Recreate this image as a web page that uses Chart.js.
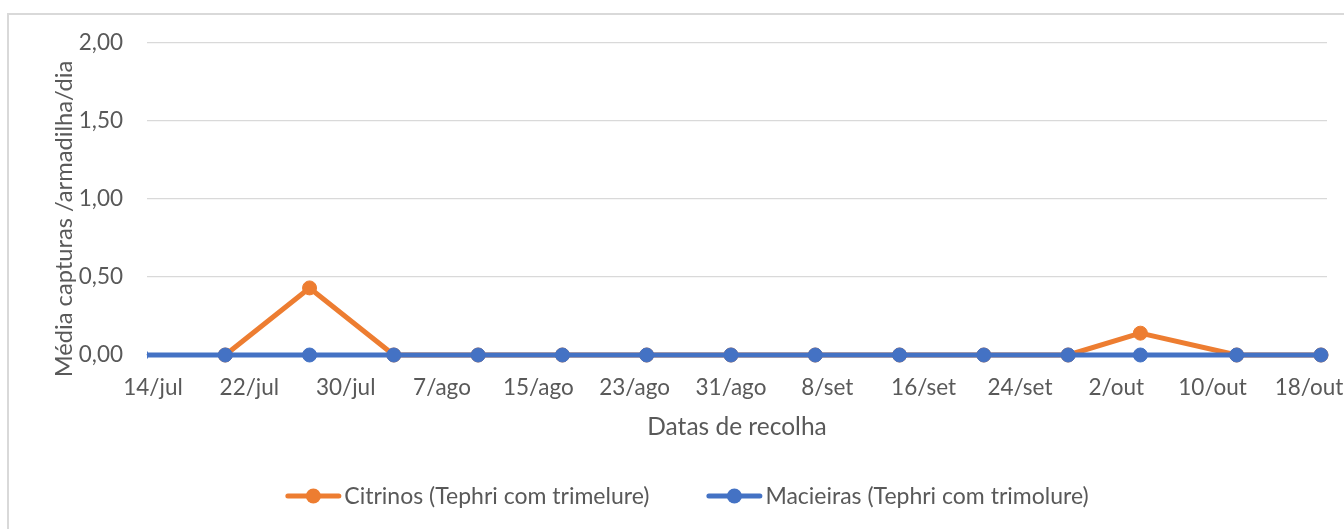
<!DOCTYPE html>
<html>
<head>
<meta charset="utf-8">
<script src="https://cdn.jsdelivr.net/npm/chart.js@4.4.1/dist/chart.umd.min.js"></script>
<style>
  html, body { margin: 0; padding: 0; background: #ffffff; }
  #wrap { position: relative; width: 1344px; height: 529px; overflow: hidden; }
  #frame { position: absolute; left: 7px; top: 13px; width: 1400px; height: 600px;
           border-left: 2px solid #d9d9d9; border-top: 2px solid #d9d9d9; }
  canvas { position: absolute; left: 0; top: 0; }
</style>
</head>
<body>
<div id="wrap">
  <div id="frame"></div>
  <canvas id="c" width="1344" height="529"></canvas>
</div>
<script>
// ---- data ----
const collectionDates = ['13/jul','20/jul','27/jul','3/ago','10/ago','17/ago','24/ago','31/ago','7/set','14/set','21/set','28/set','4/out','12/out','19/out'];
const citrinos   = [null, 0, 0.43, 0, 0, 0, 0, 0, 0, 0, 0, 0, 0.14, 0, 0];
const macieiras  = [0, 0, 0, 0, 0, 0, 0, 0, 0, 0, 0, 0, 0, 0, 0];
const xTickLabels = ['14/jul','22/jul','30/jul','7/ago','15/ago','23/ago','31/ago','8/set','16/set','24/set','2/out','10/out','18/out'];
const yTickValues = [0, 0.5, 1, 1.5, 2];
const seriesNames = ['Citrinos (Tephri com trimelure)', 'Macieiras (Tephri com trimolure)'];
const xTitle = 'Datas de recolha';
const yTitle = 'Média capturas /armadilha/dia';

// ---- helpers ----
const monthIdx = { jan:0, fev:1, mar:2, abr:3, mai:4, jun:5, jul:6, ago:7, set:8, out:9, nov:10, dez:11 };
function dayNum(label) {
  const [d, m] = label.split('/');
  return Date.UTC(2000, monthIdx[m], parseInt(d, 10)) / 86400000;
}
const origin = dayNum(xTickLabels[0]);
const dayOf = l => dayNum(l) - origin;
const toPoints = vals => collectionDates.map((d, i) => ({ x: dayOf(d), y: vals[i] }));
const tickVals = xTickLabels.map(dayOf);

const ORANGE = '#ED7D31', BLUE = '#4472C4', TEXT = '#595959', GRID = '#D9D9D9';
const FONT = 'Lato';
const TICK_SIZE = 22.5, TITLE_SIZE = 24.5, YTITLE_SIZE = 23.7, LEGEND_SIZE = 23;

const textPlugin = {
  id: 'excelText',
  afterDraw(chart) {
    const ctx = chart.ctx;
    ctx.save();
    // y axis title (rotated), centred like the reference
    ctx.font = YTITLE_SIZE + 'px ' + FONT;
    ctx.fillStyle = TEXT;
    ctx.textAlign = 'center';
    ctx.textBaseline = 'middle';
    ctx.translate(64.5, 219);
    ctx.rotate(-Math.PI / 2);
    ctx.fillText(yTitle, 0, 0);
    ctx.restore();

    // legend
    ctx.save();
    ctx.font = LEGEND_SIZE + 'px ' + FONT;
    ctx.textBaseline = 'middle';
    ctx.textAlign = 'left';
    const iconW = 56, gapText = 3, gapItem = 57;
    const items = chart.data.datasets.map(ds => ({ label: ds.label, color: ds.borderColor, w: ctx.measureText(ds.label).width }));
    let total = 0;
    items.forEach((it, i) => { total += iconW + gapText + it.w + (i ? gapItem : 0); });
    let x = 687 - total / 2;
    const y = 496;
    items.forEach((it, i) => {
      if (i) x += gapItem;
      ctx.strokeStyle = it.color; ctx.lineWidth = 5; ctx.lineCap = 'round';
      ctx.beginPath(); ctx.moveTo(x + 2.5, y); ctx.lineTo(x + iconW - 2.5, y); ctx.stroke();
      ctx.fillStyle = it.color;
      ctx.beginPath(); ctx.arc(x + iconW / 2, y, 7.5, 0, Math.PI * 2); ctx.fill();
      x += iconW + gapText;
      ctx.fillStyle = TEXT;
      ctx.fillText(it.label, x, y + 1);
      x += it.w;
    });
    ctx.restore();
  }
};

const common = { tension: 0, borderWidth: 5, pointRadius: 7, pointBorderWidth: 1, pointHoverRadius: 7,
  borderJoinStyle: 'round', borderCapStyle: 'round', clip: { left: 0, top: 12, right: 12, bottom: 12 } };

new Chart(document.getElementById('c'), {
  type: 'line',
  data: {
    datasets: [
      Object.assign({ label: seriesNames[0], data: toPoints(citrinos), borderColor: ORANGE, backgroundColor: ORANGE,
        pointBackgroundColor: ORANGE, pointBorderColor: ORANGE, order: 1 }, common),
      Object.assign({ label: seriesNames[1], data: toPoints(macieiras), borderColor: BLUE, backgroundColor: BLUE,
        pointBackgroundColor: BLUE, pointBorderColor: BLUE, order: 0 }, common)
    ]
  },
  options: {
    responsive: false,
    animation: false,
    devicePixelRatio: 1,
    layout: { padding: { top: 43, right: 17, bottom: 79, left: 0 } },
    plugins: { legend: { display: false }, tooltip: { enabled: false } },
    scales: {
      x: {
        type: 'linear',
        min: tickVals[0] - 0.5,
        max: tickVals[tickVals.length - 1] + 1.5,
        afterBuildTicks: s => { s.ticks = tickVals.map(v => ({ value: v })); },
        afterFit: s => { s.height = 95; s.paddingLeft = 0; s.paddingRight = 0; },
        grid: { display: false, drawTicks: false },
        border: { display: true, color: GRID, width: 1.3 },
        ticks: { autoSkip: false, maxRotation: 0, padding: 19, color: TEXT, font: { family: FONT, size: TICK_SIZE },
          callback: v => { const i = tickVals.indexOf(v); return i >= 0 ? xTickLabels[i] : ''; } },
        title: { display: true, text: xTitle, color: TEXT, font: { family: FONT, size: TITLE_SIZE }, padding: { top: 0, bottom: 8 } }
      },
      y: {
        min: 0, max: 2,
        afterBuildTicks: s => { s.ticks = yTickValues.map(v => ({ value: v })); },
        afterFit: s => { s.width = 147; s.paddingTop = 0; s.paddingBottom = 0; },
        grid: { color: GRID, lineWidth: 1.3, drawTicks: false },
        border: { display: false },
        ticks: { padding: 24, color: TEXT, font: { family: FONT, size: TICK_SIZE },
          callback: v => v.toFixed(2).replace('.', ',') },
        title: { display: false }
      }
    }
  },
  plugins: [textPlugin]
});
</script>
</body>
</html>
